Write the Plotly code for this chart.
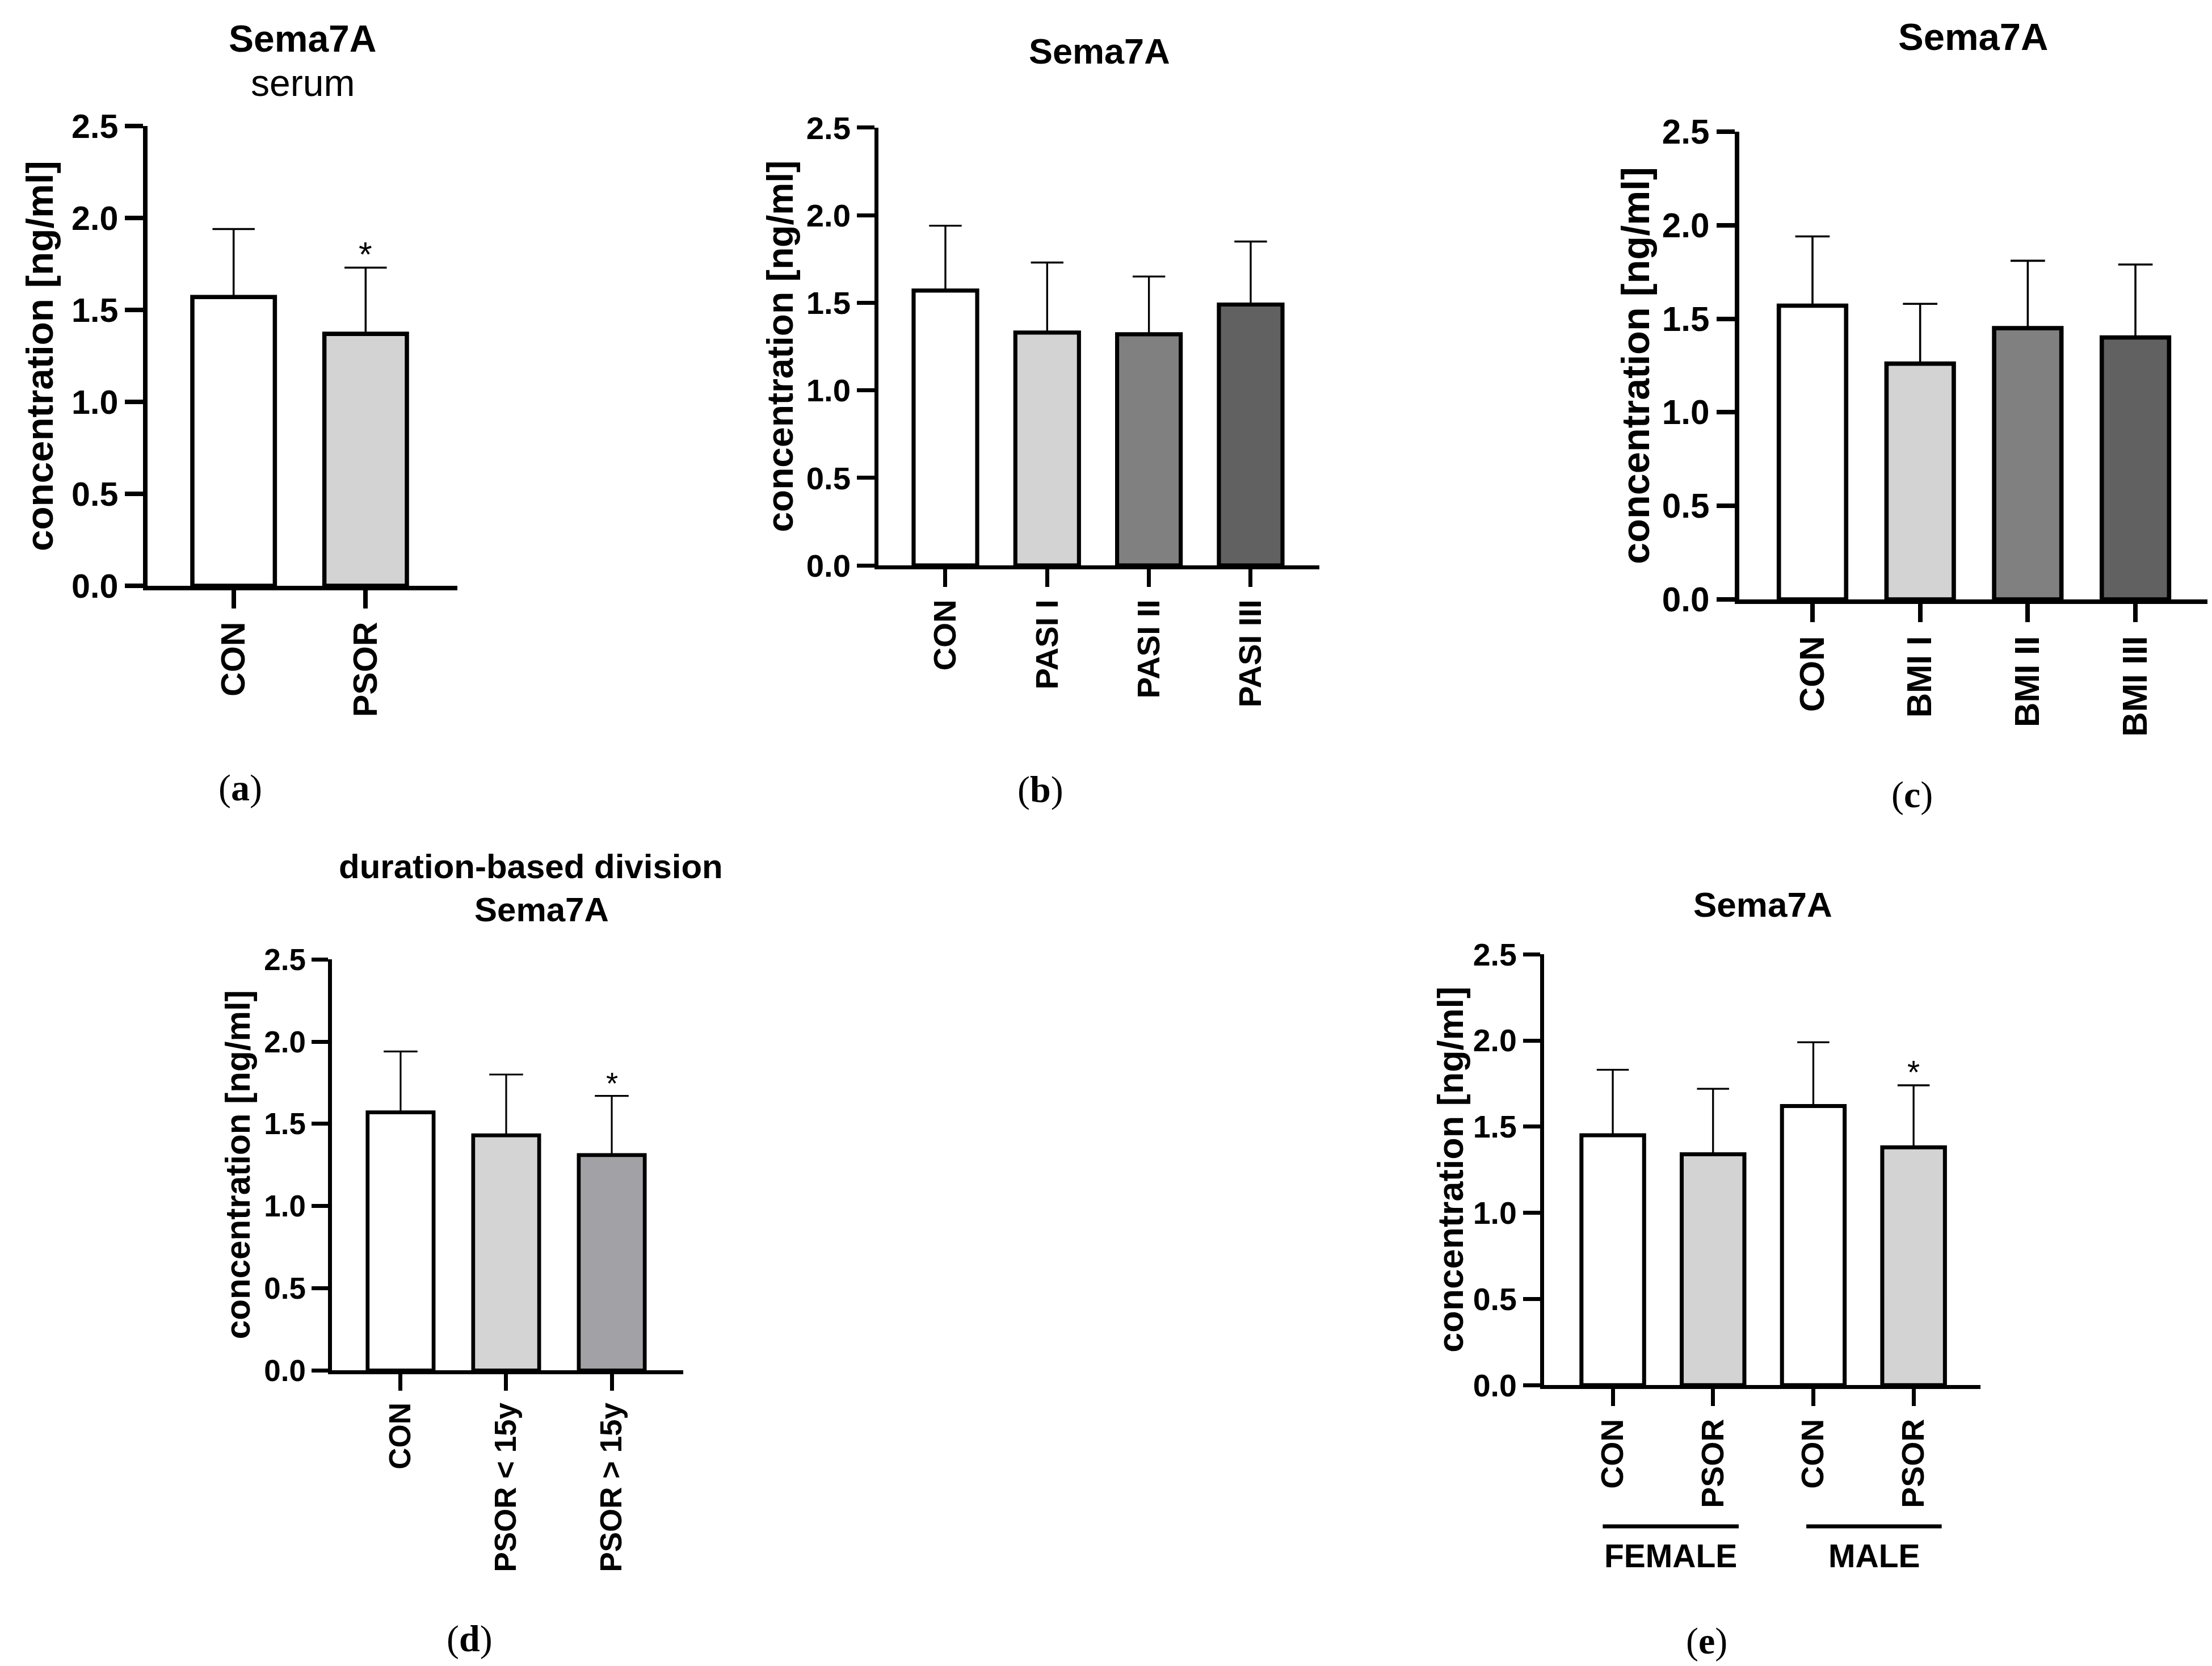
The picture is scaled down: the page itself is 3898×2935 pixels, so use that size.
import plotly.graph_objects as go

W, H = 3898, 2935

# ---- data ----
a_groups = ["CON", "PSOR"]
a_mean = [1.57, 1.37]
a_sd = [0.37, 0.36]
a_sig = ["", "*"]

b_groups = ["CON", "PASI I", "PASI II", "PASI III"]
b_mean = [1.57, 1.33, 1.32, 1.49]
b_sd = [0.37, 0.40, 0.33, 0.36]
b_sig = ["", "", "", ""]

c_groups = ["CON", "BMI I", "BMI II", "BMI III"]
c_mean = [1.57, 1.26, 1.45, 1.40]
c_sd = [0.37, 0.32, 0.36, 0.39]
c_sig = ["", "", "", ""]

d_groups = ["CON", "PSOR < 15y", "PSOR > 15y"]
d_mean = [1.57, 1.43, 1.31]
d_sd = [0.37, 0.37, 0.36]
d_sig = ["", "", "*"]

e_groups = ["CON", "PSOR", "CON", "PSOR"]
e_mean = [1.45, 1.34, 1.62, 1.38]
e_sd = [0.38, 0.38, 0.37, 0.36]
e_sig = ["", "", "", "*"]

y_ticks = [0.0, 0.5, 1.0, 1.5, 2.0, 2.5]
y_title = "concentration [ng/ml]"

# ---- layout of the panels (pixel positions in the figure) ----
panels = [
    dict(groups=a_groups, mean=a_mean, sd=a_sd, sig=a_sig,
         colors=["white", "#d3d3d3"],
         left=252, right=798, top=220, bottom=1031, xr=[-0.652, 1.695],
         ytx=62, label="a", lab_xy=(415, 1387)),
    dict(groups=b_groups, mean=b_mean, sd=b_sd, sig=b_sig,
         colors=["white", "#d3d3d3", "#808080", "#616161"],
         left=1540, right=2317, top=223, bottom=995, xr=[-0.658, 3.675],
         ytx=1367, label="b", lab_xy=(1825, 1390)),
    dict(groups=c_groups, mean=c_mean, sd=c_sd, sig=c_sig,
         colors=["white", "#d3d3d3", "#808080", "#616161"],
         left=3057, right=3885, top=230, bottom=1055, xr=[-0.68, 3.685],
         ytx=2875, label="c", lab_xy=(3361, 1399)),
    dict(groups=d_groups, mean=d_mean, sd=d_sd, sig=d_sig,
         colors=["white", "#d4d4d4", "#a2a1a6"],
         left=577, right=1196, top=1690, bottom=2415, xr=[-0.65, 2.677],
         ytx=411, label="d", lab_xy=(819, 2888)),
    dict(groups=e_groups, mean=e_mean, sd=e_sd, sig=e_sig,
         colors=["white", "#d3d3d3", "white", "#d3d3d3"],
         left=2713, right=3482, top=1681, bottom=2441, xr=[-0.685, 3.667],
         ytx=2548, label="e", lab_xy=(2999, 2892)),
]

SANS = "Liberation Sans, Arial, sans-serif"
SERIF = "Liberation Serif, Times New Roman, serif"


def py(y):
    # pixel row measured on the reference -> paper fraction
    # (the page is photographed a little lower and squeezed, so correct for it)
    return 1 - (1.0225 * y - 40.7) / H


fig = go.Figure()
annotations = []
shapes = []

for i, p in enumerate(panels, start=1):
    h = p["bottom"] - p["top"]
    k = h / 809.0
    n = len(p["groups"])
    xs = list(range(n))
    span = p["right"] - p["left"]
    spacing = span / (p["xr"][1] - p["xr"][0])
    lw = 7.5 * k
    fig.add_trace(go.Bar(
        x=xs, y=p["mean"], width=0.625,
        marker=dict(color=p["colors"], line=dict(color="black", width=lw)),
        error_y=dict(type="data", symmetric=False, array=p["sd"],
                     arrayminus=[0] * n, color="black",
                     thickness=3.5 * k, width=0.16 * spacing),
        xaxis=f"x{i}", yaxis=f"y{i}", showlegend=False, hoverinfo="skip",
    ))
    tick_size = 0.073 * h
    ax = dict(
        domain=[p["left"] / W, p["right"] / W], range=p["xr"],
        anchor=f"y{i}", showgrid=False, zeroline=False,
        showline=True, linecolor="black", linewidth=lw,
        ticks="outside", ticklen=32 * k, tickwidth=lw, tickcolor="black",
        tickmode="array", tickvals=xs, ticktext=[f"<b>{g}</b>" for g in p["groups"]],
        tickangle=-90, tickfont=dict(family=SANS, size=tick_size, color="black"),
        fixedrange=True,
    )
    ay = dict(
        domain=[py(p["bottom"]), py(p["top"])], range=[0, 2.5],
        anchor=f"x{i}", showgrid=False, zeroline=False,
        showline=True, linecolor="black", linewidth=lw,
        ticks="outside", ticklen=32 * k, tickwidth=lw, tickcolor="black",
        tickmode="array", tickvals=y_ticks,
        ticktext=[f"<b>{v:.1f}</b>" for v in y_ticks],
        tickfont=dict(family=SANS, size=tick_size, color="black"),
        fixedrange=True,
    )
    fig.update_layout(**{f"xaxis{i}": ax, f"yaxis{i}": ay})

    # y-axis title
    annotations.append(dict(
        text=f"<b>{y_title}</b>", textangle=-90, showarrow=False,
        xref="paper", yref="paper", x=p["ytx"] / W,
        y=py((p["top"] + p["bottom"]) / 2),
        xanchor="center", yanchor="middle",
        font=dict(family=SANS, size=0.083 * h, color="black")))

    # significance marks
    for j, s in enumerate(p["sig"]):
        if s:
            annotations.append(dict(
                text=s, showarrow=False, xref=f"x{i}", yref=f"y{i}",
                x=xs[j], y=p["mean"][j] + p["sd"][j], yanchor="bottom",
                yshift=-12 * k,
                font=dict(family=SANS, size=0.075 * h, color="black")))

    # panel letter
    annotations.append(dict(
        text=f"(<b>{p['label']}</b>)", showarrow=False,
        xref="paper", yref="paper", x=p["lab_xy"][0] / W,
        y=py(p["lab_xy"][1]), xanchor="center", yanchor="middle",
        font=dict(family=SERIF, size=66, color="black")))

# panel titles
titles = [
    ("<b>Sema7A</b>", 525, 66, 66),
    ("serum", 525, 144, 66),
    ("<b>Sema7A</b>", 1929, 88, 63),
    ("<b>Sema7A</b>", 3469, 62, 67),
    ("<b>duration-based division</b>", 927, 1526, 60),
    ("<b>Sema7A</b>", 946, 1602, 60),
    ("<b>Sema7A</b>", 3098, 1593, 62),
]
for t, x, y, s in titles:
    annotations.append(dict(
        text=t, showarrow=False, xref="paper", yref="paper",
        x=x / W, y=py(y), xanchor="center", yanchor="middle",
        font=dict(family=SANS, size=s, color="black")))

# sex groups under panel (e)
sex_groups = ["FEMALE", "MALE"]
sex_span = [(-0.10, 1.256), (1.93, 3.28)]
for g, (x0, x1) in zip(sex_groups, sex_span):
    shapes.append(dict(type="line", xref="x5", yref="paper",
                       x0=x0, x1=x1, y0=py(2690), y1=py(2690),
                       line=dict(color="black", width=7)))
    annotations.append(dict(
        text=f"<b>{g}</b>", showarrow=False, xref="x5", yref="paper",
        x=(x0 + x1) / 2, y=py(2742), xanchor="center", yanchor="middle",
        font=dict(family=SANS, size=57, color="black")))

fig.update_layout(
    width=W, height=H, margin=dict(l=0, r=0, t=0, b=0),
    paper_bgcolor="white", plot_bgcolor="white",
    annotations=annotations, shapes=shapes, showlegend=False,
)

fig.write_html("out.html")
